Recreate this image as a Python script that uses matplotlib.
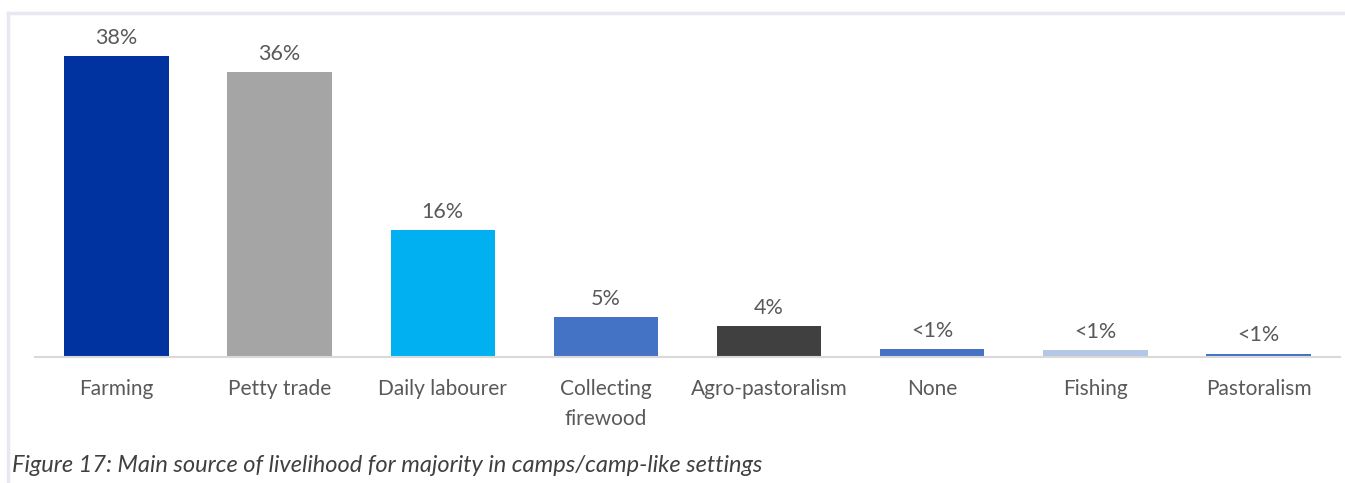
import matplotlib
matplotlib.use("Agg")
import matplotlib.pyplot as plt
from matplotlib.lines import Line2D

categories = ["Farming", "Petty trade", "Daily labourer", "Collecting\nfirewood",
              "Agro-pastoralism", "None", "Fishing", "Pastoralism"]
values = [38, 36, 16, 5, 3.9, 0.95, 0.85, 0.4]
labels = ["38%", "36%", "16%", "5%", "4%", "<1%", "<1%", "<1%"]
colors = ["#0033A0", "#A5A5A5", "#00B0F0", "#4472C4", "#404040",
          "#4472C4", "#B4C7E7", "#4472C4"]
caption = "Figure 17: Main source of livelihood for majority in camps/camp-like settings"

plt.rcParams['font.family'] = ['Lato', 'DejaVu Sans']

W, H = 1345, 483
fig = plt.figure(figsize=(W/100, H/100), dpi=100)
ax = fig.add_axes([35/W, (H-357)/H, (1340-35)/W, (357-40.2)/H])

x = range(len(categories))
ax.bar(x, values, width=0.64, color=colors)
for xi, v, lab in zip(x, values, labels):
    ax.annotate(lab, (xi, v), xytext=(0, 6), textcoords="offset points",
                ha="center", va="bottom", fontsize=15.5, color="#595959")

ax.set_xlim(-0.5, len(categories) - 0.5)
ax.set_ylim(0, 40)
ax.set_xticks(list(x))
ax.set_xticklabels(categories, fontsize=15, color="#595959", linespacing=1.6)
ax.tick_params(axis="x", length=0, pad=16)
ax.set_yticks([])
for s in ["top", "right", "left"]:
    ax.spines[s].set_visible(False)
ax.spines["bottom"].set_color("#D9D9D9")
ax.spines["bottom"].set_linewidth(1.5)

# frame lines
fig.add_artist(Line2D([8/W, 1], [(H-13)/H, (H-13)/H], color="#E8E8F2", lw=2.5))
fig.add_artist(Line2D([8/W, 8/W], [0, (H-13)/H], color="#E8E8F2", lw=2.5))

fig.text(12/W, (H-466)/H, caption,
         fontsize=17, style="italic", color="#404040", va="center", ha="left")

fig.savefig("out.png", dpi=100)
